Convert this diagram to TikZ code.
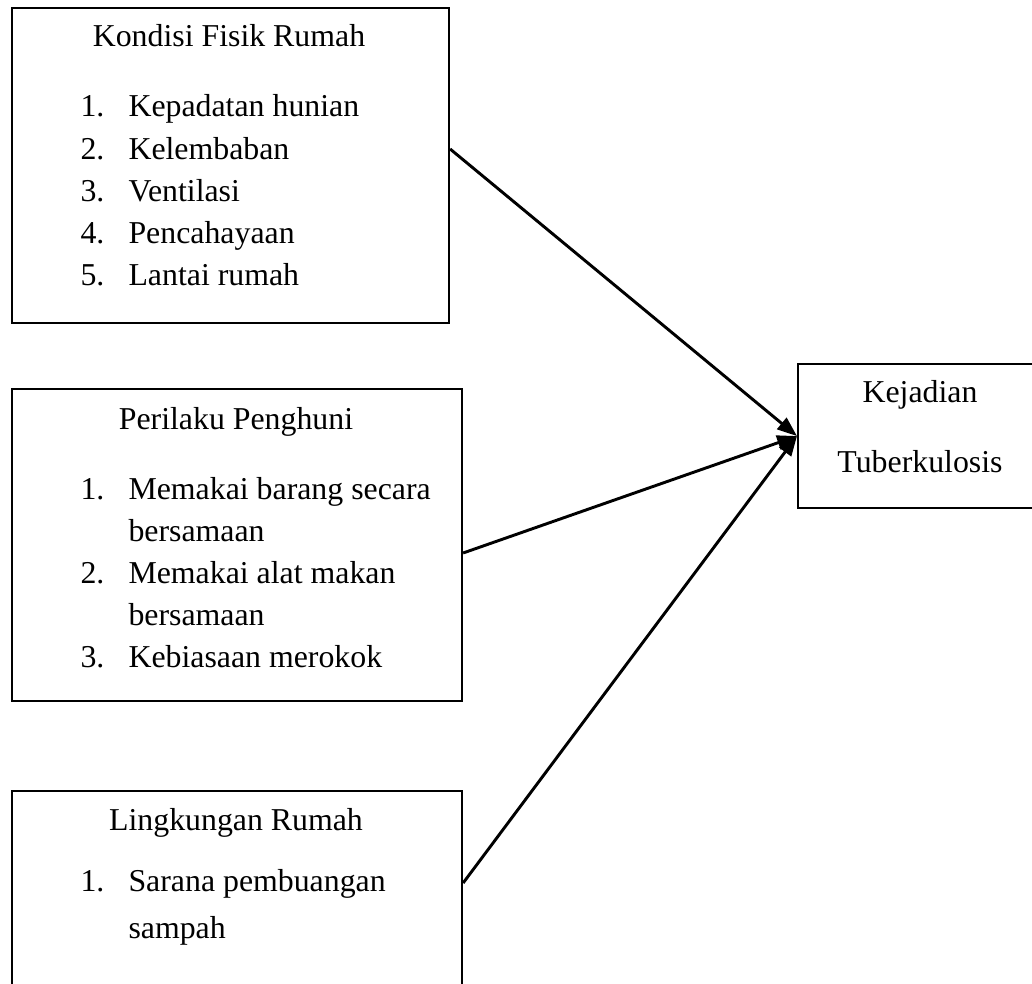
\documentclass[tikz,border=0pt]{standalone}
\usepackage{fontspec}
\setmainfont{Liberation Serif}
\usetikzlibrary{arrows.meta}
\newdimen\pxu
\pxu=0.377pt
\tikzset{
  varbox/.style={draw, line width=0.8pt, rectangle, anchor=north west, inner sep=0pt},
  label/.style={anchor=base, font=\fontsize{12}{15}\selectfont, inner sep=0pt},
  nr/.style={anchor=base west, font=\fontsize{12}{15}\selectfont, inner sep=0pt},
  item/.style={anchor=base west, font=\fontsize{12}{15}\selectfont, inner sep=0pt},
  panah/.style={line width=1.1pt, -{Triangle[length=7.5pt,width=5.5pt]}}
}
\begin{document}
\begin{tikzpicture}[x=0.377pt, y=-0.377pt]
        \useasboundingbox (0,0) rectangle (1032,984);
        \clip (0,0) rectangle (1032,984);

        % Boxes
        \node[varbox, minimum width=437\pxu, minimum height=315\pxu] (fisik) at (11,7) {};
        \node[varbox, minimum width=450\pxu, minimum height=312\pxu] (perilaku) at (11,388) {};
        \node[varbox, minimum width=450\pxu, minimum height=220\pxu] (lingkungan) at (11,790) {};
        \node[varbox, minimum width=246\pxu, minimum height=144\pxu] (hasil) at (797,363) {};

        % Titles
        \node[label] (fisik-t) at (229,47) {Kondisi Fisik Rumah};
        \node[label] (perilaku-t) at (236,429) {Perilaku Penghuni};
        \node[label] (lingkungan-t) at (236,830) {Lingkungan Rumah};
        \node[label] (hasil-t1) at (920,402) {Kejadian};
        \node[label] (hasil-t2) at (920,472) {Tuberkulosis};

        % Kondisi fisik rumah
        \foreach \txt [count=\i] in {Kepadatan hunian, Kelembaban, Ventilasi, Pencahayaan, Lantai rumah} {
            \node[nr] (fisik-n\i) at (80,{75+42*\i}) {\i.};
            \node[item] (fisik-i\i) at (128,{75+42*\i}) {\txt};
        }

        % Perilaku penghuni
        \foreach \yy/\num/\txt [count=\i] in {499/1./Memakai barang secara, 541//bersamaan,
                583/2./Memakai alat makan, 625//bersamaan, 667/3./Kebiasaan merokok} {
            \node[nr] (perilaku-n\i) at (80,\yy) {\num};
            \node[item] (perilaku-i\i) at (128,\yy) {\txt};
        }

        % Lingkungan rumah
        \node[nr] (lingkungan-n1) at (80,891) {1.};
        \node[item] (lingkungan-i1) at (128,891) {Sarana pembuangan};
        \node[item] (lingkungan-i2) at (128,938) {sampah};

        % Arrows
        \coordinate (fisik-out) at (fisik.east |- 0,149);
        \coordinate (perilaku-out) at (perilaku.east |- 0,553);
        \coordinate (lingkungan-out) at (lingkungan.east |- 0,883);
        \foreach \src in {fisik, perilaku, lingkungan} {
            \draw[panah] (\src-out) -- (hasil.west);
        }
    \end{tikzpicture}
\end{document}
